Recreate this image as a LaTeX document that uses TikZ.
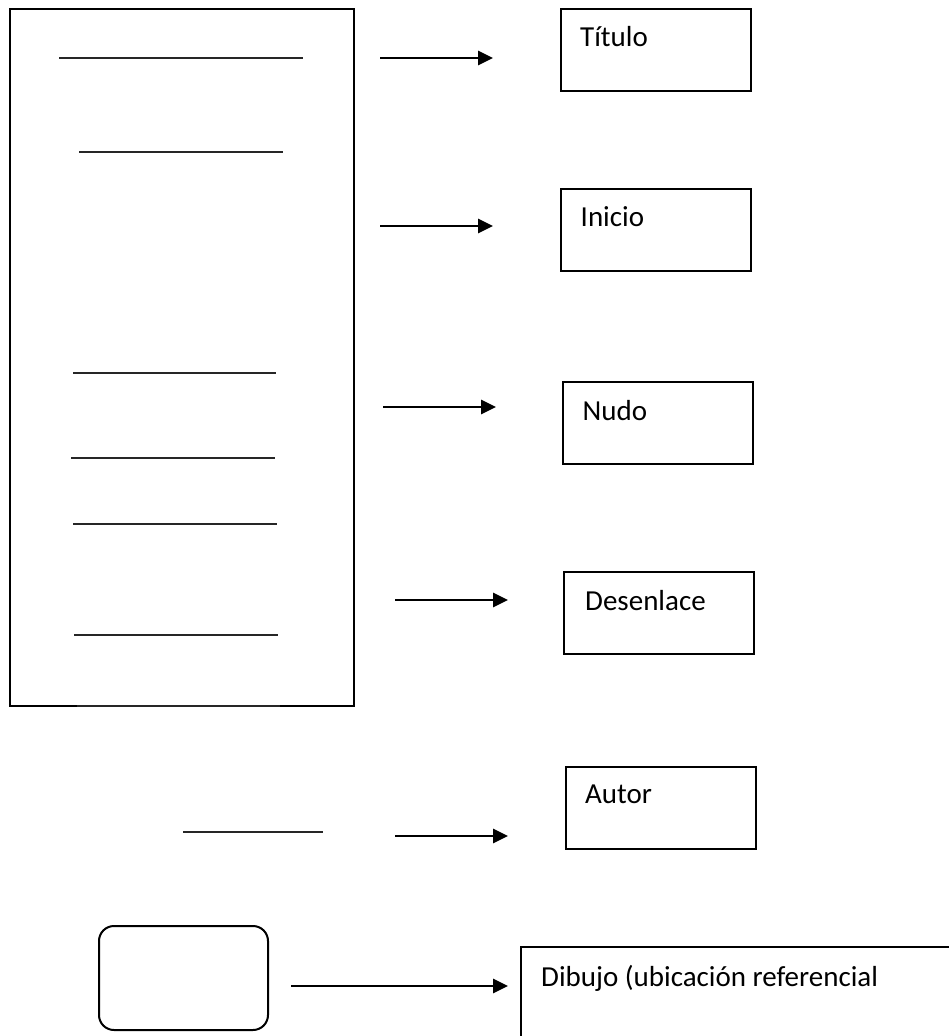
\documentclass[tikz,border=0pt]{standalone}
\usepackage{fontspec}
\setmainfont{Carlito}
\usetikzlibrary{arrows.meta}
\tikzset{
  every node/.style={
    font=\fontsize{29pt}{34pt}\selectfont
  },
  hoja/.style={
    shape=rectangle,
    draw=black,
    line width=2.2pt,
    minimum width=344pt,
    minimum height=697pt,
    inner sep=0pt
  },
  caja/.style={
    shape=rectangle,
    draw=black,
    line width=2pt,
    minimum width=190pt,
    minimum height=82pt,
    inner sep=0pt
  },
  boceto/.style={
    caja,
    rounded corners=15pt,
    minimum width=169pt,
    minimum height=104pt
  },
  rotulo/.style={
    anchor=base west,
    inner sep=0pt,
    text=black
  },
  raya/.style={
    draw=black!85,
    line width=2.1pt
  },
  flecha/.style={
    -{Triangle[length=15pt,width=14pt]},
    line width=2.8pt
  }
}

\begin{document}
\begin{tikzpicture}[x=1pt,y=-1pt]
    \useasboundingbox (0,0) rectangle (949,1036);
    \node[hoja] (hoja) at (182,357.5) {};
    \foreach \xa/\xb/\y in {59/303/58,79/283/152,73/276/373,71/275/458,73/277/524,74/278/635,77/280/706,183/323/832}
      \draw[raya] (\xa,\y) -- (\xb,\y);
    \node[caja] (titulo) at (656,50) {};
    \node[caja] (inicio) at (655.5,229.5) {};
    \node[caja] (nudo) at (657.5,423) {};
    \node[caja] (desenlace) at (659,613) {};
    \node[caja] (autor) at (661,807.5) {};
    \node[caja,minimum width=460pt,minimum height=120pt] (ubicacion) at (751,1007) {};
    \node[boceto] (dibujo) at (183.5,978) {};
    \node[rotulo] (tTitulo) at ([shift={(20pt,-38pt)}]titulo.north west) {Título};
    \node[rotulo] (tInicio) at ([shift={(21pt,-39pt)}]inicio.north west) {Inicio};
    \node[rotulo] (tNudo) at ([shift={(21pt,-39pt)}]nudo.north west) {Nudo};
    \node[rotulo] (tDesenlace) at ([shift={(22pt,-39pt)}]desenlace.north west) {Desenlace};
    \node[rotulo] (tAutor) at ([shift={(20pt,-38pt)}]autor.north west) {Autor};
    \node[rotulo] (tUbicacion) at ([shift={(21pt,-40pt)}]ubicacion.north west) {Dibujo (ubicación referencial};
    \foreach \i/\xa/\xb/\y in {1/380/493/58,2/380/493/226,3/383/496/407,4/395/508/600,5/395/508/836,6/291/508/986}
    {
      \coordinate (s\i) at (\xa,\y);
      \coordinate (e\i) at (\xb,\y);
      \draw[flecha] (s\i) -- (e\i);
    }
\end{tikzpicture}
\end{document}
